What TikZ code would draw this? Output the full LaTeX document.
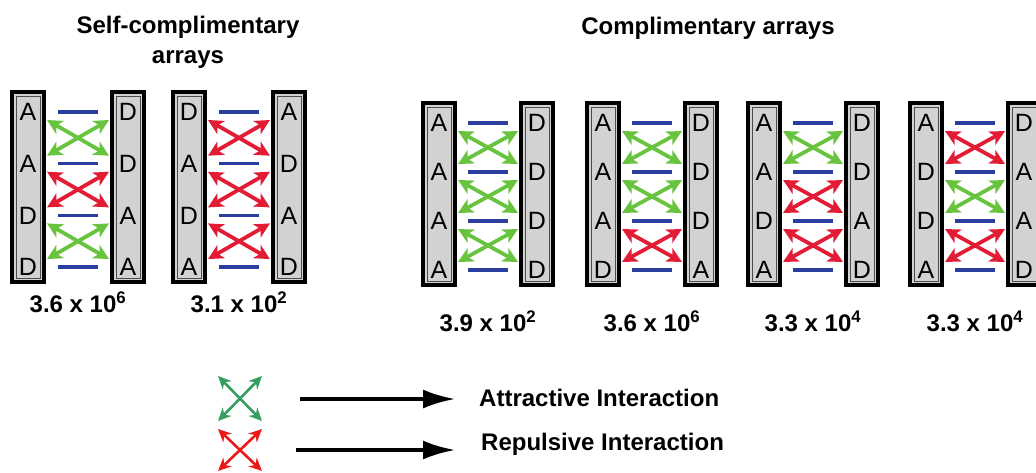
\documentclass[tikz,border=0pt]{standalone}
\usepackage{fontspec}
\setmainfont{Liberation Sans}
\usetikzlibrary{arrows.meta}

\definecolor{attgreen}{RGB}{104,196,62}
\definecolor{repred}{RGB}{226,28,52}
\definecolor{bondblue}{RGB}{42,62,160}
\definecolor{strandgray}{RGB}{210,210,210}
\definecolor{keygreen}{RGB}{52,158,96}
\definecolor{keyred}{RGB}{236,24,24}

% one pair of strands: name, x of left strand, top, left bases, right bases, crosses, rate
\newcommand{\duplex}[7]{%
  \pgfmathsetmacro{\ybot}{#3+35+3*\rowgap}%
  \pgfmathsetmacro{\xr}{#2+\pairgap}%
  \pgfmathsetmacro{\xm}{#2+16+\pairgap/2}%
  \draw[strand] (#2,#3) rectangle (#2+32,\ybot);
  \draw[inner] (#2+4,#3+4) rectangle (#2+28,\ybot-4);
  \draw[strand] (\xr,#3) rectangle (\xr+32,\ybot);
  \draw[inner] (\xr+4,#3+4) rectangle (\xr+28,\ybot-4);
  \foreach \b [count=\i from 0] in {#4}
    \node[base] (#1-l\i) at (#2+16,#3+20+\i*\rowgap) {\b};
  \foreach \b [count=\i from 0] in {#5} {
    \node[base] (#1-r\i) at (\xr+16,#3+20+\i*\rowgap) {\b};
    \draw[bond] (\xm-20,#3+20+\i*\rowgap) -- (\xm+20,#3+20+\i*\rowgap);
  }
  \foreach \c [count=\i from 0] in {#6} {
    \coordinate (#1-nw\i) at (#2+35,#3+28+\i*\rowgap);
    \coordinate (#1-ne\i) at (\xr-3,#3+28+\i*\rowgap);
    \coordinate (#1-sw\i) at (#2+35,#3+12+\i*\rowgap+\rowgap);
    \coordinate (#1-se\i) at (\xr-3,#3+12+\i*\rowgap+\rowgap);
    \draw[pair,draw=\c] (#1-nw\i) -- (#1-se\i);
    \draw[pair,draw=\c] (#1-sw\i) -- (#1-ne\i);
  }
  \node[rate] (#1-k) at (\xm,\ybot+\ratedrop) {#7};
}

\begin{document}
\begin{tikzpicture}[x=1pt,y=-1pt]
  \tikzset{strand/.style={draw=black,fill=strandgray,line width=3.5pt}}
  \tikzset{inner/.style={draw=black!70,line width=0.6pt}}
  \tikzset{base/.style={font=\fontsize{25}{25}\selectfont,inner sep=0pt}}
  \tikzset{bond/.style={draw=bondblue,line width=3.5pt}}
  \tikzset{pair/.style={line width=3.8pt,{Stealth[length=15pt,width=15pt,inset=4pt]}-{Stealth[length=15pt,width=15pt,inset=4pt]}}}
  \tikzset{rate/.style={font=\fontsize{24}{24}\selectfont\bfseries}}
  \tikzset{head/.style={font=\fontsize{24}{30}\selectfont\bfseries,align=center}}
  \tikzset{key/.style={font=\fontsize{24}{24}\selectfont\bfseries,anchor=west,inner sep=0pt}}
  \tikzset{keypair/.style={line width=2.6pt,{Stealth[length=13pt,width=12pt]}-{Stealth[length=13pt,width=12pt]}}}
  \tikzset{pointer/.style={line width=3.5pt,-{Latex[length=32pt,width=19pt]}}}
  \useasboundingbox (0,0) rectangle (1036,472);

  % headings
  \node[head] (self) at (188,42) {Self-complimentary\\arrays};
  \node[head] (compl) at (708,28) {Complimentary arrays};

  % self-complimentary
  \def\rowgap{51.7}\def\pairgap{100}\def\ratedrop{20}
  \duplex{p1}{12}{92}{A,A,D,D}{D,D,A,A}{attgreen,repred,attgreen}{3.6 x 10\textsuperscript{6}}
  \duplex{p2}{173}{92}{D,A,D,A}{A,D,A,D}{repred,repred,repred}{3.1 x 10\textsuperscript{2}}

  % complimentary
  \def\rowgap{49}\def\pairgap{98}\def\ratedrop{36}
  \duplex{p3}{423}{103}{A,A,A,A}{D,D,D,D}{attgreen,attgreen,attgreen}{3.9 x 10\textsuperscript{2}}
  \duplex{p4}{587}{103}{A,A,A,D}{D,D,D,A}{attgreen,attgreen,repred}{3.6 x 10\textsuperscript{6}}
  \duplex{p5}{748}{103}{A,A,D,A}{D,D,A,D}{attgreen,repred,repred}{3.3 x 10\textsuperscript{4}}
  \duplex{p6}{910}{103}{A,D,D,A}{D,A,A,D}{repred,attgreen,repred}{3.3 x 10\textsuperscript{4}}

  % key
  \coordinate (g-nw) at (218,376);
  \coordinate (g-se) at (262,421);
  \coordinate (g-sw) at (218,421);
  \coordinate (g-ne) at (262,376);
  \draw[keypair,draw=keygreen] (g-nw) -- (g-se);
  \draw[keypair,draw=keygreen] (g-sw) -- (g-ne);
  \coordinate (r-nw) at (218,429);
  \coordinate (r-se) at (262,471);
  \coordinate (r-sw) at (218,471);
  \coordinate (r-ne) at (262,429);
  \draw[keypair,draw=keyred] (r-nw) -- (r-se);
  \draw[keypair,draw=keyred] (r-sw) -- (r-ne);

  \node[key] (att) at (479,398) {Attractive Interaction};
  \node[key] (rep) at (481,444) {Repulsive Interaction};
  \coordinate (att-from) at (300,399);
  \coordinate (att-to) at (455,399);
  \coordinate (rep-from) at (296,450);
  \coordinate (rep-to) at (455,450);
  \draw[pointer] (att-from) -- (att-to);
  \draw[pointer] (rep-from) -- (rep-to);
\end{tikzpicture}
\end{document}
